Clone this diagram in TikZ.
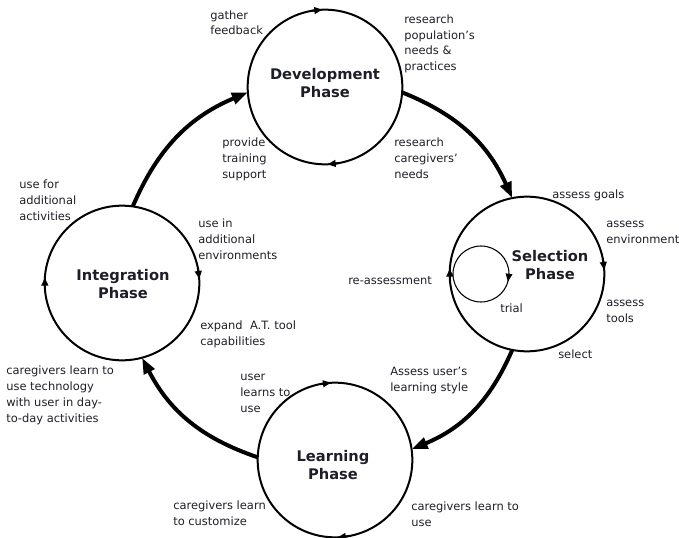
\documentclass[tikz,border=0pt]{standalone}
\usepackage{fontspec}
\setmainfont{DejaVu Sans}
\usetikzlibrary{arrows.meta}
\definecolor{txt}{RGB}{30,30,40}
\begin{document}
\begin{tikzpicture}[x=0.75pt,y=0.75pt,
  phase/.style={circle, draw, line width=1.5pt, minimum size=116pt, inner sep=0pt, outer sep=0pt},
  title/.style={font=\bfseries\fontsize{11}{13.5}\selectfont, align=center, text=txt, inner sep=0pt},
  lbl/.style={font=\fontsize{8.6}{12}\selectfont, align=left, anchor=base west, text=txt, inner sep=0pt},
  flow/.style={line width=3pt, -{Triangle[length=12pt,width=8.5pt]}, bend left=22},
  cyc/.style={line width=1.5pt, -{Triangle[length=6pt,width=5pt]}},
  loopc/.style={circle, draw, line width=0.8pt, minimum size=42pt, inner sep=0pt, outer sep=0pt},
  looptip/.style={line width=0.8pt, -{Triangle[length=6pt,width=5pt]}}
]
\useasboundingbox (0,0) rectangle (679,537);

% phase circles
\node[phase] (dev) at (325,450) {};
\node[phase] (sel) at (527,263) {};
\node[phase] (int) at (122,254) {};
\node[phase] (learn) at (335,77) {};
\node[loopc] (loop) at (481,263) {};

% titles
\node[title] (devt) at (325,453.5) {Development\\Phase};
\node[title] (selt) at (550,272) {Selection\\Phase};
\node[title] (intt) at (123,252.5) {Integration\\Phase};
\node[title] (learnt) at (333,71.5) {Learning\\Phase};

% thick flow arrows
\draw[flow] (dev.-4) to (sel.101);
\draw[flow] (sel.259) to (learn.8);
\draw[flow] (learn.178) to (int.285);
\draw[flow] (int.82) to (dev.184);

% cycle markers on circles
\draw[cyc] (dev.100) -- (dev.92);
\draw[cyc] (dev.280) -- (dev.272);
\draw[cyc] (sel.11) -- (sel.3);
\draw[cyc] (sel.184) -- (sel.176);
\draw[cyc] (int.11) -- (int.3);
\draw[cyc] (int.184) -- (int.176);
\draw[cyc] (learn.101) -- (learn.93);
\draw[cyc] (learn.280) -- (learn.272);
\draw[looptip] (loop.0) -- (loop.-16);

% labels (base = baseline of last line)
\node[lbl] (l1) at (210,502) {gather\\feedback};
\node[lbl] (l2) at (404,466) {research\\population’s\\needs \&\\practices};
\node[lbl] (l3) at (222,359) {provide\\training\\support};
\node[lbl] (l4) at (394,359) {research\\caregivers’\\needs};
\node[lbl] (l5) at (552,339) {assess goals};
\node[lbl] (l6) at (606,294) {assess\\environment};
\node[lbl] (l7) at (606,215) {assess\\tools};
\node[lbl] (l8) at (500,225) {trial};
\node[lbl] (l9) at (558,179) {select};
\node[lbl] (l10) at (348,253) {re-assessment};
\node[lbl] (l11) at (19,317) {use for\\additional\\activities};
\node[lbl] (l12) at (198,278) {use in\\additional\\environments};
\node[lbl] (l13) at (200,192) {expand~ A.T. tool\\capabilities};
\node[lbl] (l14) at (6,115) {caregivers learn to\\use technology\\with user in day-\\to-day activities};
\node[lbl] (l15) at (240,125) {user\\learns to\\use};
\node[lbl] (l16) at (390,146) {Assess user’s\\learning style};
\node[lbl] (l17) at (173,12) {caregivers learn\\to customize};
\node[lbl] (l18) at (411,11) {caregivers learn to\\use};
\end{tikzpicture}
\end{document}
